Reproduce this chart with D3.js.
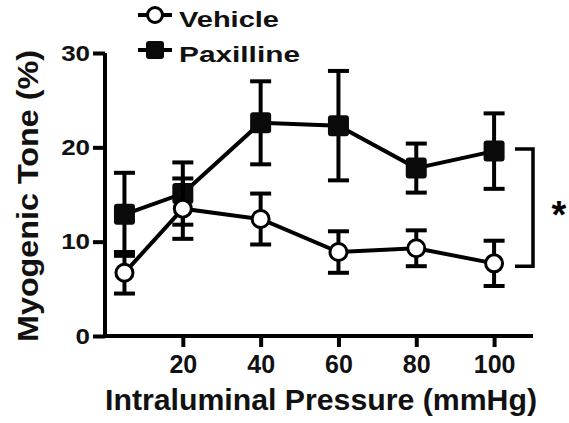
<!DOCTYPE html>
<html>
<head>
<meta charset="utf-8">
<script src="https://cdn.jsdelivr.net/npm/d3@7"></script>
<style>
	body { margin: 0; background: #fff; }
	text { font-family: "Liberation Sans", Arial, sans-serif; font-weight: bold; }
</style>
</head>
<body>
<div id="chart"></div>
<script>
// pressure steps (mmHg)
const pressure = [5, 20, 40, 60, 80, 100];
// myogenic tone (%) and SEM
const vehicle = [6.7, 13.5, 12.4, 8.9, 9.3, 7.7];
const vehicleErr = [2.2, 3.2, 2.7, 2.2, 1.9, 2.4];
const paxilline = [12.9, 15.1, 22.6, 22.3, 17.8, 19.6];
const paxillineErr = [4.4, 3.3, 4.4, 5.8, 2.6, 4.0];
const xTicks = [20, 40, 60, 80, 100];
const yTicks = [0, 10, 20, 30];

const width = 569, height = 423;
const svg = d3.select("#chart").append("svg")
	.attr("width", width)
	.attr("height", height);

const x = d3.scaleLinear().domain([0, 110]).range([105, 533]);
const y = d3.scaleLinear().domain([0, 30]).range([336, 53]);

// axes
const xAxis = d3.axisBottom(x).tickValues(xTicks).tickSize(11).tickSizeOuter(0).tickPadding(8);
const yAxis = d3.axisLeft(y).tickValues(yTicks).tickSize(12).tickSizeOuter(0);

const gx = svg.append("g").attr("transform", `translate(0,${y(0)})`).call(xAxis);
const gy = svg.append("g").attr("transform", `translate(${x(0)},0)`).call(yAxis);

[gx, gy].forEach((g) => {
	g.select(".domain").attr("stroke", "#000").attr("stroke-width", 4);
	g.selectAll(".tick line").attr("stroke", "#000").attr("stroke-width", 4);
	g.selectAll(".tick text").attr("fill", "#111");
});
gx.select(".domain").attr("d", `M${x(0) - 2},0H${x(110)}`);
gy.select(".domain").attr("d", `M0,${y(0) + 2}V${y(30)}`);
gx.selectAll(".tick text").style("font-size", "25px");
// y labels are drawn a bit wider than the font
gy.selectAll(".tick text")
	.style("font-size", "22px")
	.attr("x", 0)
	.attr("transform", "translate(-15,0) scale(1.18,1)");

// axis titles
svg.append("text")
	.attr("x", 321).attr("y", 410)
	.attr("text-anchor", "middle")
	.style("font-size", "30px")
	.attr("textLength", 432)
	.attr("lengthAdjust", "spacingAndGlyphs")
	.attr("fill", "#111")
	.text("Intraluminal Pressure (mmHg)");

svg.append("text")
	.attr("transform", "translate(38,196) rotate(-90)")
	.attr("text-anchor", "middle")
	.style("font-size", "30px")
	.attr("textLength", 292)
	.attr("lengthAdjust", "spacingAndGlyphs")
	.attr("fill", "#111")
	.text("Myogenic Tone (%)");

const line = d3.line().x((d) => x(d[0])).y((d) => y(d[1]));

function drawSeries(values, errs, marker) {
	const pts = pressure.map((p, i) => [p, values[i], errs[i]]);
	const g = svg.append("g");

	g.append("path")
		.attr("d", line(pts))
		.attr("fill", "none")
		.attr("stroke", "#000")
		.attr("stroke-width", 4);

	const eb = g.selectAll(".err").data(pts).enter().append("g");
	eb.append("line")
		.attr("x1", (d) => x(d[0])).attr("x2", (d) => x(d[0]))
		.attr("y1", (d) => y(d[1] - d[2])).attr("y2", (d) => y(d[1] + d[2]))
		.attr("stroke", "#000").attr("stroke-width", 4);
	[-1, 1].forEach((s) => {
		eb.append("line")
			.attr("x1", (d) => x(d[0]) - 10.5).attr("x2", (d) => x(d[0]) + 10.5)
			.attr("y1", (d) => y(d[1] + s * d[2])).attr("y2", (d) => y(d[1] + s * d[2]))
			.attr("stroke", "#000").attr("stroke-width", 4);
	});

	if (marker === "circle") {
		g.selectAll("circle").data(pts).enter().append("circle")
			.attr("cx", (d) => x(d[0])).attr("cy", (d) => y(d[1]))
			.attr("r", 8.5)
			.attr("fill", "#fff").attr("stroke", "#000").attr("stroke-width", 3);
	} else {
		g.selectAll("rect").data(pts).enter().append("rect")
			.attr("x", (d) => x(d[0]) - 10.5).attr("y", (d) => y(d[1]) - 10.5)
			.attr("width", 21).attr("height", 21).attr("rx", 3)
			.attr("fill", "#0a0a0a");
	}
}

drawSeries(paxilline, paxillineErr, "square");
drawSeries(vehicle, vehicleErr, "circle");

// significance bracket
const bx = x(110);
const yTop = y(paxilline[5]) - 2, yBot = y(vehicle[5]) + 3;
svg.append("path")
	.attr("d", `M${bx - 18},${yTop}H${bx}V${yBot}H${bx - 18}`)
	.attr("fill", "none").attr("stroke", "#000").attr("stroke-width", 3.5);
svg.append("text")
	.attr("x", 559).attr("y", 228)
	.attr("text-anchor", "middle")
	.style("font-size", "38px")
	.text("*");

// legend
const legend = [
	{ name: "Vehicle", marker: "circle", y: 15, w: 100 },
	{ name: "Paxilline", marker: "square", y: 50, w: 121 },
];
const lg = svg.append("g");
legend.forEach((d) => {
	lg.append("line")
		.attr("x1", 138).attr("x2", 172).attr("y1", d.y).attr("y2", d.y)
		.attr("stroke", "#000").attr("stroke-width", 4);
	if (d.marker === "circle") {
		lg.append("circle").attr("cx", 155).attr("cy", d.y).attr("r", 7.5)
			.attr("fill", "#fff").attr("stroke", "#000").attr("stroke-width", 3);
	} else {
		lg.append("rect").attr("x", 146).attr("y", d.y - 9).attr("width", 18).attr("height", 18)
			.attr("rx", 3).attr("fill", "#0a0a0a");
	}
	lg.append("text")
		.attr("x", 179).attr("y", d.y + 12)
		.style("font-size", "22px")
		.attr("textLength", d.w)
		.attr("lengthAdjust", "spacingAndGlyphs")
		.attr("fill", "#111")
		.text(d.name);
});
</script>
</body>
</html>
